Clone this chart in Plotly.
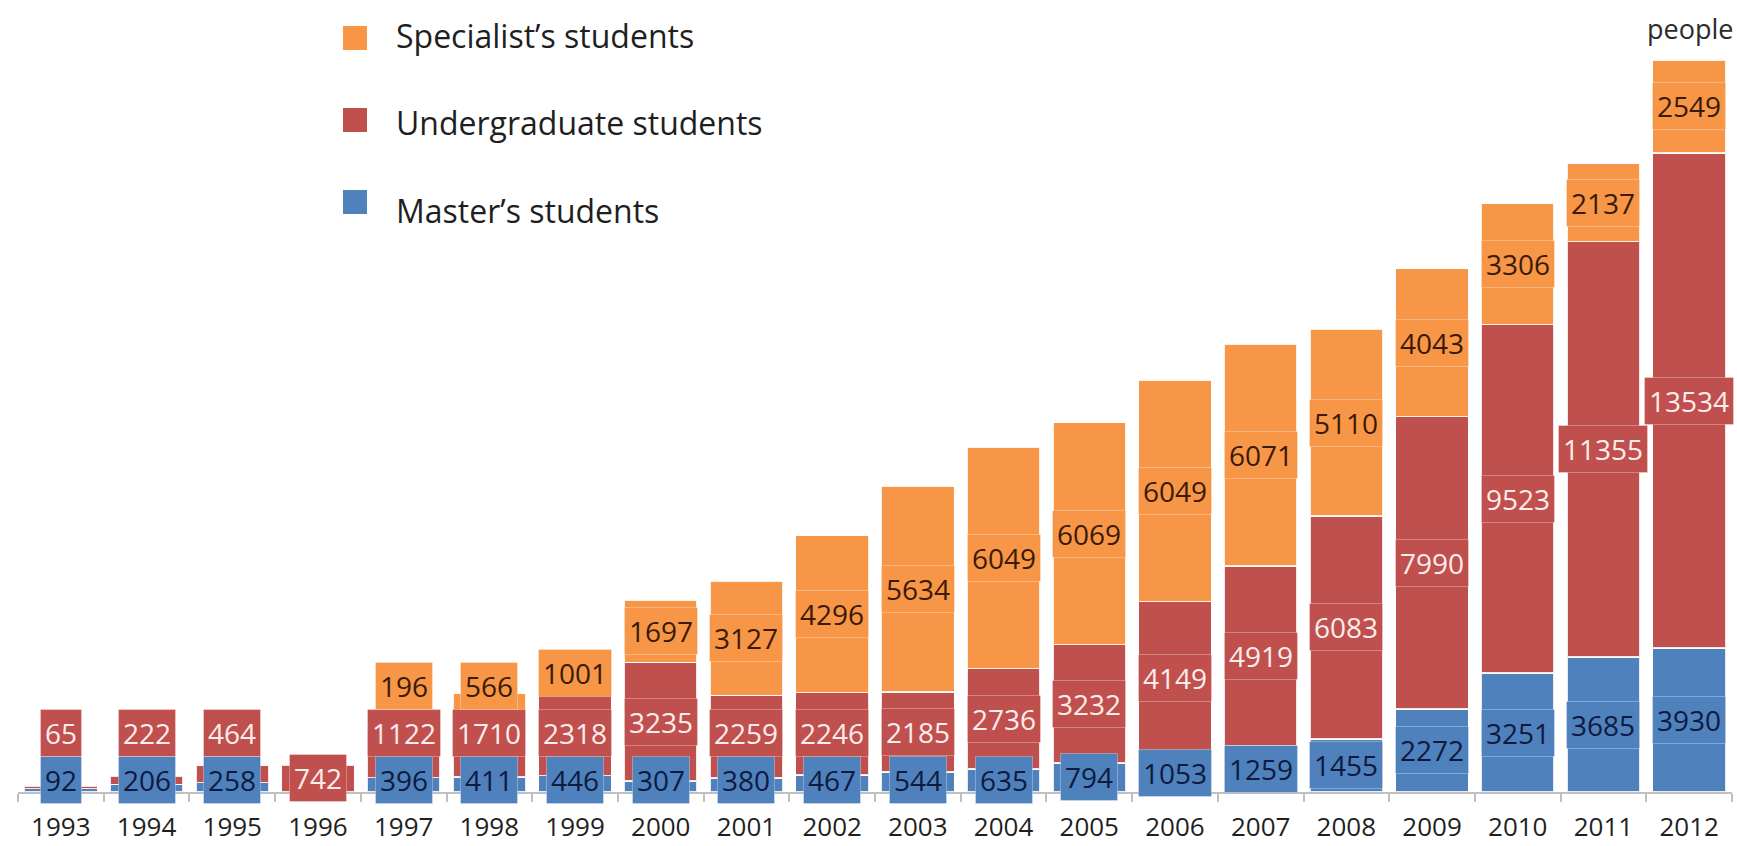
import plotly.graph_objects as go

# Enrolment by year and programme (people)
years = [str(y) for y in range(1993, 2013)]
masters = [92, 206, 258, None, 396, 411, 446, 307, 380, 467,
           544, 635, 794, 1053, 1259, 1455, 2272, 3251, 3685, 3930]
undergrad = [65, 222, 464, 742, 1122, 1710, 2318, 3235, 2259, 2246,
             2185, 2736, 3232, 4149, 4919, 6083, 7990, 9523, 11355, 13534]
specialist = [None, None, None, None, 196, 566, 1001, 1697, 3127, 4296,
              5634, 6049, 6069, 6049, 6071, 5110, 4043, 3306, 2137, 2549]

series_names = ["Master’s students", "Undergraduate students", "Specialist’s students"]
series_values = [masters, undergrad, specialist]
series_colors = ["#4F81BD", "#C0504D", "#F79646"]
label_colors = ["#0E1A3F", "#FBEDEC", "#3B1A08"]

FONT = "'Open Sans', Lato, sans-serif"
W, H = 1737, 846
MARGIN = dict(l=18, r=5, t=20, b=54)
Y_MAX = 21100
plot_w = W - MARGIN["l"] - MARGIN["r"]
plot_h = H - MARGIN["t"] - MARGIN["b"]
units_per_px = Y_MAX / plot_h


def paper_x(px):
    return (px - MARGIN["l"]) / plot_w


def paper_y(py):
    return (H - MARGIN["b"] - py) / plot_h


fig = go.Figure()
for name, vals, color in zip(series_names, series_values, series_colors):
    fig.add_trace(go.Bar(
        x=years, y=vals, name=name,
        marker=dict(color=color, line=dict(color="rgba(255,255,255,0.85)", width=1.5)),
        showlegend=False,
        hovertemplate="%{x}: %{y}<extra>" + name + "</extra>",
    ))

# Value boxes: centred on each segment, pushed up when they would collide
first_px, sep_px = 12, 47
for i, yr in enumerate(years):
    base = 0
    prev = None
    for vals, color, tcolor in zip(series_values, series_colors, label_colors):
        v = vals[i]
        if not v:
            continue
        centre = base + v / 2
        lo = first_px * units_per_px if prev is None else prev + sep_px * units_per_px
        ypos = max(centre, lo)
        fig.add_annotation(
            x=i, y=ypos, xref="x", yref="y", text=str(v), showarrow=False,
            bgcolor=color, bordercolor="rgba(255,255,255,0.3)", borderwidth=1,
            borderpad=4, font=dict(family=FONT, size=28, color=tcolor),
        )
        prev = ypos
        base += v

# Legend drawn as squares + labels, listed top to bottom: (series, square y, text y)
legend_rows = [(2, 38, 36), (1, 120, 122), (0, 202, 210)]
for idx, sq_y, txt_y in legend_rows:
    fig.add_shape(
        type="rect", xref="paper", yref="paper",
        x0=paper_x(343), x1=paper_x(367), y0=paper_y(sq_y + 12), y1=paper_y(sq_y - 12),
        fillcolor=series_colors[idx], line=dict(width=0),
    )
    fig.add_annotation(
        x=paper_x(394), y=paper_y(txt_y), xref="paper", yref="paper",
        xanchor="left", yanchor="middle", showarrow=False,
        text=series_names[idx], font=dict(family=FONT, size=32, color="#1F1F1F"),
    )

fig.add_annotation(
    x=paper_x(1690), y=paper_y(28), xref="paper", yref="paper",
    xanchor="center", yanchor="middle", showarrow=False,
    text="people", font=dict(family=FONT, size=27, color="#2B2B2B"),
)

fig.update_layout(
    width=W, height=H, margin=MARGIN,
    barmode="stack", bargap=0.15,
    plot_bgcolor="white", paper_bgcolor="white",
    font=dict(family=FONT, color="#1F1F1F"),
    xaxis=dict(
        type="category", range=[-0.5, 19.5], automargin=False,
        showline=True, linecolor="#BFBFBF", linewidth=2,
        ticks="outside", tickson="boundaries", ticklen=8, tickcolor="#BFBFBF", tickwidth=2,
        tickfont=dict(family=FONT, size=26, color="#1F1F1F"),
        ticklabelstandoff=11, showgrid=False, zeroline=False,
    ),
    yaxis=dict(visible=False, range=[0, Y_MAX], showgrid=False, zeroline=False,
               automargin=False),
)

fig.write_html("out.html")
